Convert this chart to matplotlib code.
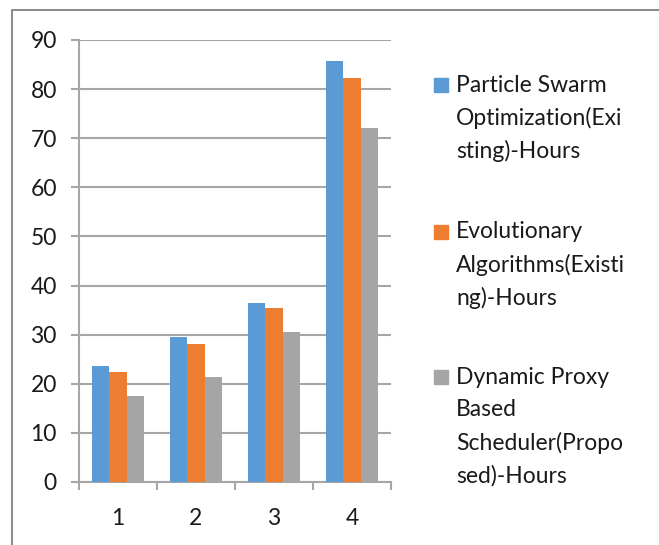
import matplotlib.pyplot as plt
import numpy as np
from matplotlib.lines import Line2D
from matplotlib.patches import Rectangle

plt.rcParams['font.family'] = ['Lato', 'DejaVu Sans']

# data
categories = ['1', '2', '3', '4']
pso_hours = [23.6, 29.5, 36.4, 85.7]  # Particle Swarm Optimization (existing)
evo_hours = [22.5, 28.0, 35.5, 82.3]  # Evolutionary Algorithms (existing)
dps_hours = [17.6, 21.4, 30.6, 72.1]  # Dynamic Proxy Based Scheduler (proposed)
series_labels = [
    ['Particle Swarm', 'Optimization(Exi', 'sting)-Hours'],
    ['Evolutionary', 'Algorithms(Existi', 'ng)-Hours'],
    ['Dynamic Proxy', 'Based', 'Scheduler(Propo', 'sed)-Hours'],
]
colors = ['#5B9BD5', '#ED7D31', '#A5A5A5']
grid_color = '#A6A6A6'
text_color = '#1A1A1A'
fs = 16.5

W, H = 659, 545
fig = plt.figure(figsize=(W / 100, H / 100), dpi=100)
ax = fig.add_axes([79 / W, 1 - 482 / H, (391 - 79) / W, (482 - 40) / H])

x = np.arange(len(categories))
bw = 0.222
for k, vals in enumerate([pso_hours, evo_hours, dps_hours]):
    ax.bar(x + (k - 1) * bw, vals, bw, color=colors[k], zorder=3)

ax.set_xlim(-0.5, len(categories) - 0.5)
ax.set_ylim(0, 90)
ax.set_yticks(range(0, 91, 10))
ax.set_xticks(x)
ax.set_xticklabels(categories)
ax.set_xticks(np.arange(-0.5, len(categories), 1), minor=True)

ax.grid(axis='y', color=grid_color, linewidth=1.5, zorder=0)
for s in ['top', 'right']:
    ax.spines[s].set_visible(False)
for s in ['left', 'bottom']:
    ax.spines[s].set_color(grid_color)
    ax.spines[s].set_linewidth(1.5)

ax.tick_params(axis='y', length=6, width=1.5, color=grid_color, pad=10,
               labelsize=fs, labelcolor=text_color)
ax.tick_params(axis='x', which='major', length=0, pad=19,
               labelsize=fs, labelcolor=text_color)
ax.tick_params(axis='x', which='minor', length=6, width=1.5, color=grid_color)

# outer chart frame (left and top edges visible)
fig.add_artist(Line2D([12 / W, 12 / W, 1], [0, 1 - 10 / H, 1 - 10 / H],
                      transform=fig.transFigure, color='#8C8C8C', linewidth=1.5))

# legend drawn by hand so the marker sits on the first line
entry_tops = [85, 232, 377]
line_step = 33
for k, lines in enumerate(series_labels):
    y0 = entry_tops[k]
    fig.add_artist(Rectangle((434 / W, 1 - (y0 + 7) / H), 14 / W, 14 / H,
                             transform=fig.transFigure, color=colors[k]))
    for j, t in enumerate(lines):
        fig.text(456 / W, 1 - (y0 + j * line_step) / H, t, fontsize=fs,
                 color=text_color, va='center', ha='left')

fig.savefig('out.png', dpi=100)
